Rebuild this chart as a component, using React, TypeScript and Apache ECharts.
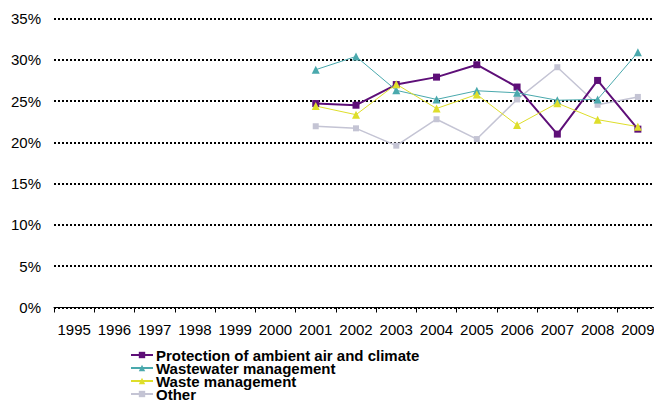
import React, { useEffect, useRef } from "react";
import * as echarts from "echarts";

const years = ["1995","1996","1997","1998","1999","2000","2001","2002","2003","2004","2005","2006","2007","2008","2009"];
const protection = [null,null,null,null,null,null,24.7,24.5,27.0,27.9,29.4,26.7,21.0,27.5,21.6];
const wastewater = [null,null,null,null,null,null,28.8,30.4,26.3,25.2,26.25,26.0,25.1,25.2,30.9];
const waste = [null,null,null,null,null,null,24.4,23.35,27.05,24.1,25.8,22.1,24.75,22.75,21.9];
const other = [null,null,null,null,null,null,21.95,21.7,19.6,22.8,20.4,25.2,29.1,24.55,25.5];

export default function App() {
  const ref = useRef<HTMLDivElement>(null);
  useEffect(() => {
    if (!ref.current) return;
    const chart = echarts.init(ref.current, null, { renderer: "svg" });
    const font = "Arial, 'Liberation Sans', sans-serif";
    chart.setOption({
      animation: false,
      grid: { left: 54, right: -4, top: 18.5, bottom: 93.5, containLabel: false, outerBoundsMode: "none" },
      xAxis: {
        type: "category",
        data: years,
        boundaryGap: true,
        axisLine: { lineStyle: { color: "#000", width: 1 } },
        axisTick: { show: true, length: 5, lineStyle: { color: "#000" } },
        axisLabel: { color: "#000", fontSize: 15, fontFamily: font, margin: 14, interval: 0, hideOverlap: false },
      },
      yAxis: {
        type: "value",
        min: 0,
        max: 35,
        interval: 5,
        axisLine: { show: false },
        axisTick: { show: false },
        axisLabel: { color: "#000", fontSize: 15, fontFamily: font, margin: 13, formatter: "{value}%" },
        splitLine: { show: true, lineStyle: { color: "#000", width: 2, type: [2, 2] } },
      },
      legend: {
        orient: "vertical",
        left: 130,
        top: 347.5,
        height: 80,
        padding: 0,
        itemWidth: 22,
        itemHeight: 8,
        itemGap: -2.0,
        data: ["Protection of ambient air and climate", "Wastewater management", "Waste management", "Other"],
        textStyle: { color: "#000", fontSize: 15, fontWeight: "bold", fontFamily: font, padding: [0, 0, 0, -2] },
      },
      series: [
        {
          name: "Other",
          type: "line",
          data: other,
          symbol: "rect",
          symbolSize: 6,
          color: "#c4c4d4",
          lineStyle: { width: 1.5, color: "#c4c4d4" },
          itemStyle: { color: "#c4c4d4" },
        },
        {
          name: "Protection of ambient air and climate",
          type: "line",
          data: protection,
          symbol: "rect",
          symbolSize: 7,
          color: "#5e0f78",
          lineStyle: { width: 2, color: "#5e0f78" },
          itemStyle: { color: "#5e0f78" },
        },
        {
          name: "Wastewater management",
          type: "line",
          data: wastewater,
          symbol: "triangle",
          symbolSize: 8,
          color: "#4aa9ad",
          lineStyle: { width: 1, color: "#4aa9ad" },
          itemStyle: { color: "#4aa9ad" },
        },
        {
          name: "Waste management",
          type: "line",
          data: waste,
          symbol: "triangle",
          symbolSize: 8,
          color: "#dede2a",
          lineStyle: { width: 1, color: "#dede2a" },
          itemStyle: { color: "#dede2a" },
        },
      ],
    });
    return () => chart.dispose();
  }, []);
  return <div ref={ref} style={{ width: 654, height: 401, position: "absolute", left: 0, top: 0 }} />;
}
